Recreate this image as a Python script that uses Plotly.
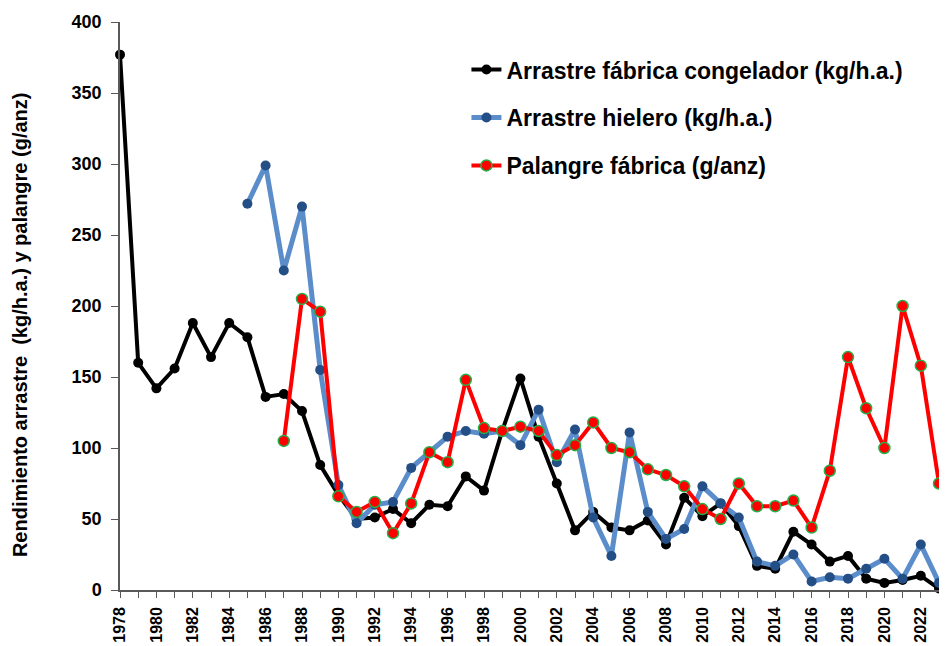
import plotly.graph_objects as go

# ---- data ----
years_black = list(range(1978, 2024))
black_vals = [377, 160, 142, 156, 188, 164, 188, 178, 136, 138, 126, 88, 67, 50, 51, 57,
              47, 60, 59, 80, 70, 112, 149, 108, 75, 42, 55, 44, 42, 49, 32, 65, 52, 61,
              45, 17, 15, 41, 32, 20, 24, 8, 5, 7, 10, 1]

years_blue = list(range(1985, 2024))
blue_vals = [272, 299, 225, 270, 155, 74, 47, 60, 62, 86, 97, 108, 112, 110, 112, 102,
             127, 90, 113, 51, 24, 111, 55, 36, 43, 73, 61, 51, 20, 17, 25, 6, 9, 8, 15,
             22, 8, 32, 5]

years_red = list(range(1987, 2024))
red_vals = [105, 205, 196, 66, 55, 62, 40, 61, 97, 90, 148, 114, 112, 115, 112, 95, 102,
            118, 100, 97, 85, 81, 73, 57, 50, 75, 59, 59, 63, 44, 84, 164, 128, 100, 200,
            158, 75]

names = ["Arrastre fábrica congelador (kg/h.a.)",
         "Arrastre hielero (kg/h.a.)",
         "Palangre fábrica (g/anz)"]

tick_years = list(range(1978, 2024))
tick_text = [str(y) if y % 2 == 0 else "" for y in tick_years]
y_title = "Rendimiento arrastre  (kg/h.a.) y palangre (g/anz)"

FONT = "Liberation Sans, Arial, sans-serif"

fig = go.Figure()
fig.add_trace(go.Scatter(
    x=years_black, y=black_vals, name=names[0], mode="lines+markers",
    line=dict(color="#000000", width=4),
    marker=dict(color="#000000", size=10),
    cliponaxis=False, legendgroup="a"))
fig.add_trace(go.Scatter(
    x=years_blue, y=blue_vals, name=names[1], mode="lines+markers",
    line=dict(color="#5B8DCB", width=5),
    marker=dict(color="#234E86", size=10),
    cliponaxis=False, legendgroup="b"))
fig.add_trace(go.Scatter(
    x=years_red, y=red_vals, name=names[2], mode="lines+markers",
    line=dict(color="#FF0000", width=4),
    marker=dict(color="#FF0000", size=11, line=dict(color="#22B04A", width=1.5)),
    cliponaxis=False, legendgroup="c"))

fig.update_layout(
    width=939, height=638,
    margin=dict(l=112, r=8, t=14, b=56),
    paper_bgcolor="white", plot_bgcolor="white",
    font=dict(family=FONT, color="#000000"),
    showlegend=True,
    legend=dict(x=0.423, y=0.954, xanchor="left", yanchor="top",
                font=dict(size=23, family=FONT, color="#000000", weight="bold"),
                tracegroupgap=15, bgcolor="rgba(0,0,0,0)"),
    xaxis=dict(range=[1978, 2023], tickmode="array", tickvals=tick_years,
               ticktext=tick_text, tickangle=-90, ticks="outside", ticklen=6,
               tickcolor="#595959", showline=True, linecolor="#595959", linewidth=1.5,
               showgrid=False, zeroline=False, automargin=False,
               tickfont=dict(size=16, family=FONT, weight="bold"),
               ticklabelstandoff=3),
    yaxis=dict(range=[0, 400], tickmode="linear", tick0=0, dtick=50,
               ticks="outside", ticklen=7, tickcolor="#595959",
               showline=True, linecolor="#595959", linewidth=1.5,
               showgrid=False, zeroline=False, automargin=False,
               tickfont=dict(size=18, family=FONT, weight="bold"),
               ticklabelstandoff=6),
    annotations=[dict(text=y_title, textangle=-90, xref="paper", yref="paper",
                      x=-0.122, y=(590 - 325) / 568, xanchor="center", yanchor="middle",
                      showarrow=False,
                      font=dict(size=20, family=FONT, color="#000000", weight="bold"))],
)

fig.write_html("out.html")
